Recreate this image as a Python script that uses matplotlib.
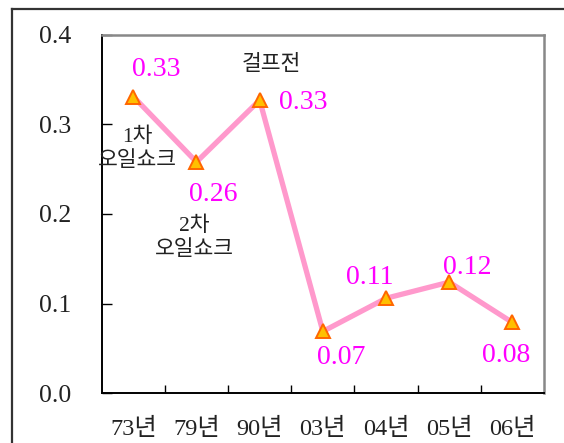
import numpy as np
import matplotlib
matplotlib.use("Agg")
import matplotlib.pyplot as plt
from matplotlib.lines import Line2D

plt.rcParams['font.family'] = ['Liberation Serif', 'Noto Sans CJK KR']

# data
years = ['73년', '79년', '90년', '03년', '04년', '05년', '06년']
ratio = [0.331, 0.258, 0.327, 0.069, 0.106, 0.124, 0.079]
value_labels = ['0.33', '0.26', '0.33', '0.07', '0.11', '0.12', '0.08']
yticks = [0.0, 0.1, 0.2, 0.3, 0.4]

# label offsets in pixels (dx, dy down) from each point
label_off = [(23, -27), (17, 32), (44, 2), (18, 26), (-16, -21), (18, -15), (-6, 33)]

# event notes: (index of point, text, dx, dy)
events = [
    (0, '1차\n오일쇼크', 4, 53),
    (1, '2차\n오일쇼크', -2, 76),
    (2, '걸프전', 12, -35),
]

fig = plt.figure(figsize=(5.64, 4.43), dpi=100)
ax = fig.add_axes([101.7/564, 1-393.3/443, (544-101.7)/564, (393.3-34.7)/443])

x = np.arange(len(years))
ax.plot(x, ratio, color='#FF99CC', lw=3.8, zorder=2,
        marker='^', ms=9.5, mfc='#FFC000', mec='#FF6600', mew=1.4)

px = 0.72
for i, (lab, (dx, dy)) in enumerate(zip(value_labels, label_off)):
    ax.annotate(lab, (x[i], ratio[i]), xytext=(dx*px, -dy*px),
                textcoords='offset points', ha='center', va='center',
                color='#FF00FF', fontsize=20, zorder=3)

for i, txt, dx, dy in events:
    ax.annotate(txt, (x[i], ratio[i]), xytext=(dx*px, -dy*px),
                textcoords='offset points', ha='center', va='center',
                color='#222222', fontsize=15.5, linespacing=1.3, zorder=3)

ax.set_xlim(-0.5, len(years)-0.5)
ax.set_ylim(0, 0.4)
ax.set_yticks(yticks)
ax.set_yticklabels([f'{v:.1f}' for v in yticks], fontsize=18.5, color='#222222')
ax.tick_params(axis='y', direction='in', length=7, width=1, pad=22)

# ticks at the category borders, labels at the centres
ax.set_xticks(np.arange(0.5, len(years)-1, 1.0))
ax.set_xticklabels([])
ax.set_xticks(x, minor=True)
ax.set_xticklabels(years, minor=True, fontsize=17.5, color='#222222')
ax.tick_params(axis='x', which='major', direction='in', length=6, width=1)
ax.tick_params(axis='x', which='minor', length=0, pad=18)

for s in ['left', 'bottom']:
    ax.spines[s].set_color('black')
    ax.spines[s].set_linewidth(1.4)
for s in ['top', 'right']:
    ax.spines[s].set_color('#888888')
    ax.spines[s].set_linewidth(1.8)

# outer frame (only top and left edges visible)
fl = 11.7/564
ft = 1-8.5/443
fig.add_artist(Line2D([fl, 1], [ft, ft], color='#333333', lw=1.6))
fig.add_artist(Line2D([fl, fl], [0, ft], color='#333333', lw=1.6))

fig.savefig('out.png', dpi=100)
